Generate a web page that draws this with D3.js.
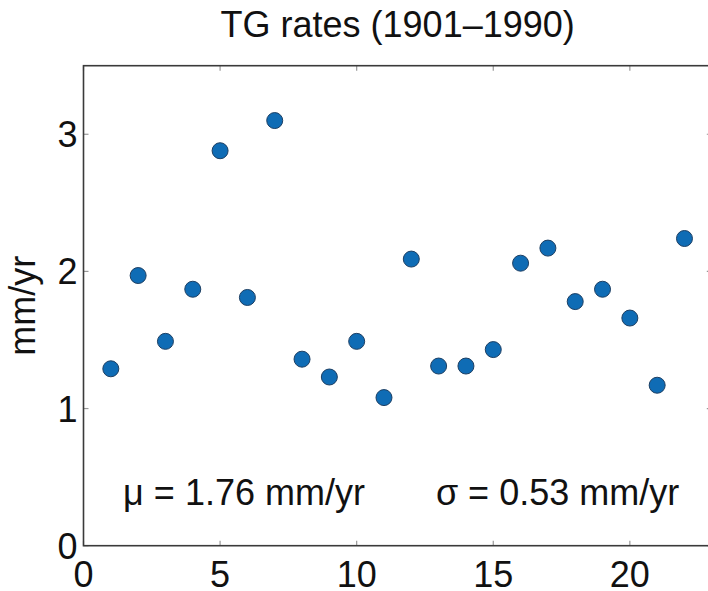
<!DOCTYPE html>
<html><head><meta charset="utf-8">
<script src="https://cdn.jsdelivr.net/npm/d3@7"></script>
<style>body{margin:0;background:#fff}text{font-family:"Liberation Sans",Arial,Helvetica,sans-serif}</style>
</head><body>
<svg id="c" width="708" height="591"></svg>
<script>
const indices = [1,2,3,4,5,6,7,8,9,10,11,12,13,14,15,16,17,18,19,20,21,22];
const rates = [1.29,1.97,1.49,1.87,2.88,1.81,3.10,1.36,1.23,1.49,1.08,2.09,1.31,1.31,1.43,2.06,2.17,1.78,1.87,1.66,1.17,2.24];
const xTicks = [0,5,10,15,20];
const yTicks = [0,1,2,3];
const title = "TG rates (1901\u20131990)";
const yLabel = "mm/yr";
const notes = [{x:1.45, y:0.3, t:"\u03bc = 1.76 mm/yr"},{x:12.9, y:0.3, t:"\u03c3 = 0.53 mm/yr"}];

const svg = d3.select("#c");
const L = 83.5, R = 711.8, T = 65.7, B = 545.7;
const x = d3.scaleLinear().domain([0,23]).range([L,R]);
const y = d3.scaleLinear().domain([0,3.5]).range([B,T]);
const fs = 36;

const tk = 5;
const tickCol = "#999";
svg.append("g").selectAll("line").data(xTicks).join("line")
  .attr("x1",d=>x(d)).attr("x2",d=>x(d)).attr("y1",B).attr("y2",B-tk).attr("stroke",tickCol).attr("stroke-width",1.2);
svg.append("g").selectAll("line").data(xTicks).join("line")
  .attr("x1",d=>x(d)).attr("x2",d=>x(d)).attr("y1",T).attr("y2",T+tk).attr("stroke",tickCol).attr("stroke-width",1.2);
svg.append("g").selectAll("line").data(yTicks).join("line")
  .attr("x1",L).attr("x2",L+tk).attr("y1",d=>y(d)).attr("y2",d=>y(d)).attr("stroke",tickCol).attr("stroke-width",1.2);
svg.append("g").selectAll("line").data(yTicks).join("line")
  .attr("x1",R).attr("x2",R-tk).attr("y1",d=>y(d)).attr("y2",d=>y(d)).attr("stroke",tickCol).attr("stroke-width",1.2);

svg.append("rect").attr("x",L).attr("y",T).attr("width",R-L).attr("height",B-T)
  .attr("fill","none").attr("stroke","#3a3a3a").attr("stroke-width",1.6);

svg.append("g").selectAll("text").data(xTicks).join("text")
  .attr("x",d=>x(d)).attr("y",B+41).attr("text-anchor","middle").attr("font-size",fs).attr("fill","#111").text(d=>d);
svg.append("g").selectAll("text").data(yTicks).join("text")
  .attr("x",L-6).attr("y",d=>y(d)+13).attr("text-anchor","end").attr("font-size",fs).attr("fill","#111").text(d=>d);

svg.append("text").attr("x",(L+R)/2).attr("y",37).attr("text-anchor","middle").attr("font-size",fs).attr("fill","#111").text(title);
svg.append("text").attr("transform",`translate(35,${(T+B)/2}) rotate(-90)`).attr("text-anchor","middle").attr("font-size",fs).attr("fill","#111").text(yLabel);

svg.append("g").selectAll("circle").data(indices).join("circle")
  .attr("cx",(d)=>x(d)).attr("cy",(d,i)=>y(rates[i])).attr("r",8)
  .attr("fill","#0f6cb5").attr("stroke","#1d3f63").attr("stroke-width",1);

svg.append("g").selectAll("text").data(notes).join("text")
  .attr("x",d=>x(d.x)).attr("y",d=>y(d.y)).attr("font-size",fs).attr("fill","#111").text(d=>d.t);
</script>
</body></html>
